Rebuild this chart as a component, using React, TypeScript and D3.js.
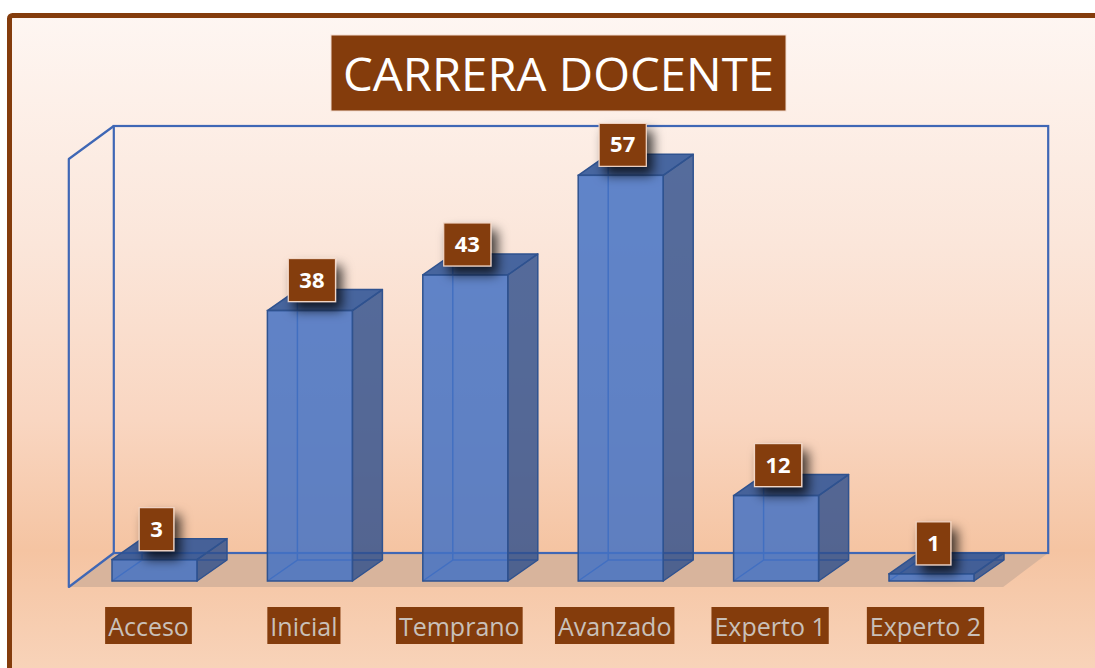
import React, { useEffect, useRef } from "react";
import * as d3 from "d3";

const categories = ["Acceso", "Inicial", "Temprano", "Avanzado", "Experto 1", "Experto 2"];
const values = [3, 38, 43, 57, 12, 1];
const yDomain = [0, 60];
const title = "CARRERA DOCENTE";

export default function App() {
  const ref = useRef<SVGSVGElement>(null);

  useEffect(() => {
    const W = 1095, H = 668;
    const svg = d3.select(ref.current);
    svg.selectAll("*").remove();
    const defs = svg.append("defs");

    const grad = defs.append("linearGradient").attr("id", "bg")
      .attr("gradientUnits", "userSpaceOnUse").attr("x1", 0).attr("y1", 15).attr("x2", 0).attr("y2", 668);
    [["0%", "#fef6f2"], ["35%", "#fbe6da"], ["62%", "#f9d6c1"], ["82%", "#f5c4a2"], ["100%", "#f8d3b9"]]
      .forEach(([o, c]) => grad.append("stop").attr("offset", o).attr("stop-color", c));

    const f = defs.append("filter").attr("id", "shadow").attr("x", "-60%").attr("y", "-60%").attr("width", "220%").attr("height", "220%");
    f.append("feDropShadow").attr("dx", 6).attr("dy", 8).attr("stdDeviation", 6)
      .attr("flood-color", "#000").attr("flood-opacity", 0.75);

    svg.append("rect").attr("width", W).attr("height", H).attr("fill", "#ffffff");
    svg.append("rect").attr("x", 9.5).attr("y", 15.5).attr("width", 1300).attr("height", 900).attr("rx", 3)
      .attr("fill", "url(#bg)").attr("stroke", "#843c0c").attr("stroke-width", 5);

    const r0 = 76.8, r1 = 1009.2;
    const x = d3.scaleBand<string>().domain(categories).range([r0, r1]).paddingInner(0.453).paddingOuter(0.2265);
    const y = d3.scaleLinear().domain(yDomain).range([581, 154]);
    const bw = x.bandwidth();
    const bdx = 30, bdy = 21;
    const wdx = 45, wdy = 34;
    const floorFrontY = y(0) + 6;
    const floorBackY = floorFrontY - wdy;
    const fl = r0 - 8, fr = r1 - 6;
    const wallTop = y(yDomain[1]) - 28;
    const blue = "#3f67b5";

    // floor
    svg.append("path")
      .attr("d", `M${fl},${floorFrontY}L${fr},${floorFrontY}L${fr + wdx},${floorBackY}L${fl + wdx},${floorBackY}Z`)
      .attr("fill", "#d8b49c");

    // back wall
    svg.append("rect").attr("x", fl + wdx).attr("y", wallTop).attr("width", fr - fl).attr("height", floorBackY - wallTop)
      .attr("fill", "none").attr("stroke", blue).attr("stroke-width", 2.2);
    // left wall
    svg.append("path")
      .attr("d", `M${fl + wdx},${wallTop}L${fl},${wallTop + wdy - 1}L${fl},${floorFrontY}L${fl + wdx},${floorBackY}`)
      .attr("fill", "none").attr("stroke", blue).attr("stroke-width", 2.2).attr("stroke-linejoin", "round");

    const edge = "#2f528f";
    categories.forEach((c, i) => {
      const x0 = x(c)!;
      const yt = y(values[i]);
      const yb = y(0);
      const g = svg.append("g");
      g.append("path")
        .attr("d", `M${x0},${yb}L${x0 + bdx},${yb - bdy}L${x0 + bdx},${yt - bdy}M${x0 + bdx},${yb - bdy}L${x0 + bw + bdx},${yb - bdy}`)
        .attr("fill", "none").attr("stroke", "#3461b0").attr("stroke-width", 1.5);
      g.append("path")
        .attr("d", `M${x0 + bw},${yt}L${x0 + bw + bdx},${yt - bdy}L${x0 + bw + bdx},${yb - bdy}L${x0 + bw},${yb}Z`)
        .attr("fill", "#2f4f8c").attr("fill-opacity", 0.82).attr("stroke", edge).attr("stroke-width", 1.5).attr("stroke-linejoin", "round");
      g.append("path")
        .attr("d", `M${x0},${yt}L${x0 + bdx},${yt - bdy}L${x0 + bw + bdx},${yt - bdy}L${x0 + bw},${yt}Z`)
        .attr("fill", "#2e5396").attr("fill-opacity", 0.88).attr("stroke", edge).attr("stroke-width", 1.5).attr("stroke-linejoin", "round");
      g.append("rect").attr("x", x0).attr("y", yt).attr("width", bw).attr("height", yb - yt)
        .attr("fill", "#4472c4").attr("fill-opacity", 0.85).attr("stroke", edge).attr("stroke-width", 1.5);
    });

    // value labels
    categories.forEach((c, i) => {
      const cx = x(c)! + bw / 2 + 2;
      const yt = y(values[i]);
      const g = svg.append("g");
      const t = g.append("text").attr("x", cx).attr("y", yt - 23).attr("text-anchor", "middle")
        .attr("font-family", "'Open Sans', 'Noto Sans', sans-serif").attr("font-weight", 700).attr("font-size", 22)
        .attr("fill", "#ffffff").text(String(values[i]));
      const tw = (t.node() as SVGTextElement).getComputedTextLength();
      const bwid = tw + 22;
      g.insert("rect", "text").attr("x", cx - bwid / 2).attr("y", yt - 52).attr("width", bwid).attr("height", 43)
        .attr("fill", "#843c0c").attr("stroke", "#f1d6c6").attr("stroke-width", 1.2).attr("filter", "url(#shadow)");
    });

    // category labels
    categories.forEach((c) => {
      const cx = x(c)! + bw / 2 - 6;
      const g = svg.append("g");
      const t = g.append("text").attr("x", cx).attr("y", 636).attr("text-anchor", "middle")
        .attr("font-family", "'Open Sans', 'Noto Sans', sans-serif").attr("font-size", 25)
        .attr("fill", "#c9c0b9").text(c);
      const tw = (t.node() as SVGTextElement).getComputedTextLength();
      g.insert("rect", "text").attr("x", cx - tw / 2 - 3).attr("y", 607).attr("width", tw + 6).attr("height", 37)
        .attr("fill", "#843c0c");
    });

    // title
    const tg = svg.append("g");
    tg.append("rect").attr("x", 331).attr("y", 35).attr("width", 455).attr("height", 76)
      .attr("fill", "#843c0c").attr("stroke", "#f3dccf").attr("stroke-width", 1);
    tg.append("text").attr("x", 558.5).attr("y", 91).attr("text-anchor", "middle")
      .attr("font-family", "'Open Sans', 'Noto Sans', sans-serif").attr("font-size", 46)
      .attr("textLength", 431).attr("lengthAdjust", "spacingAndGlyphs")
      .attr("fill", "#ffffff").text(title);
  }, []);

  return (
    <svg ref={ref} width={1095} height={668}
      style={{ position: "absolute", left: 0, top: 0, display: "block" }} />
  );
}
